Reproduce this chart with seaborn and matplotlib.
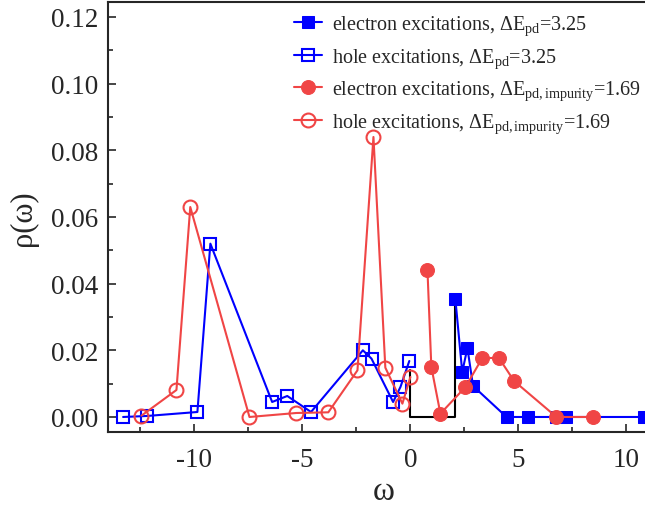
import seaborn as sns
import matplotlib.pyplot as plt
from matplotlib.ticker import MultipleLocator

# hole excitations, dE_pd = 3.25 (blue open squares)
hole_pd_x = [-13.3, -12.2, -9.86, -9.26, -6.4, -5.7, -4.6, -2.2, -1.8, -0.8, -0.46, -0.05]
hole_pd_y = [0.0, 0.0003, 0.0015, 0.052, 0.0045, 0.0063, 0.0015, 0.020, 0.0175, 0.0045, 0.009, 0.0168]

# electron excitations, dE_pd = 3.25 (blue filled squares)
elec_pd_x = [2.08, 2.4, 2.64, 2.9, 4.45, 5.46, 6.76, 7.22, 10.8]
elec_pd_y = [0.0355, 0.0135, 0.0207, 0.0093, 0.0, 0.0, 0.0, 0.0, 0.0]

# electron excitations, impurity (red filled circles)
elec_imp_x = [0.79, 0.97, 1.39, 2.55, 3.33, 4.1, 4.8, 6.76, 8.47]
elec_imp_y = [0.0441, 0.015, 0.001, 0.009, 0.0177, 0.0177, 0.0108, 0.0, 0.0]

# hole excitations, impurity (red open circles)
hole_imp_x = [-12.45, -10.83, -10.19, -7.45, -5.28, -3.8, -2.45, -1.71, -1.16, -0.37, 0.0]
hole_imp_y = [0.0004, 0.0081, 0.063, 0.0, 0.0012, 0.0014, 0.014, 0.084, 0.0148, 0.004, 0.012]

# gap outline
gap_x = [0.0, 0.0, 2.08, 2.08]
gap_y = [0.014, 0.0, 0.0, 0.0355]

blue = "#0000FF"
red = "#F04545"

sns.set_style("ticks")
plt.rcParams["font.family"] = ["Liberation Serif", "DejaVu Serif"]
plt.rcParams["mathtext.fontset"] = "custom"
plt.rcParams["mathtext.rm"] = "Liberation Serif"
plt.rcParams["mathtext.it"] = "Liberation Serif:italic"
plt.rcParams["axes.unicode_minus"] = False

fig = plt.figure(figsize=(6.45, 5.06), dpi=100)
ax = fig.add_axes([0.1674, 0.1443, 0.854, 0.8498])

sns.lineplot(x=gap_x, y=gap_y, ax=ax, color="black", lw=1.5, sort=False, estimator=None)

sns.lineplot(x=elec_pd_x, y=elec_pd_y, ax=ax, color=blue, lw=1.5, marker="s", ms=9,
             mfc=blue, mec=blue, label=r"electron excitations, $\Delta$E$_{\mathrm{pd}}$=3.25")
sns.lineplot(x=hole_pd_x, y=hole_pd_y, ax=ax, color=blue, lw=1.5, marker="s", ms=9,
             mfc="none", mec=blue, mew=1.5, label=r"hole excitations, $\Delta$E$_{\mathrm{pd}}$=3.25")
sns.lineplot(x=elec_imp_x, y=elec_imp_y, ax=ax, color=red, lw=1.5, marker="o", ms=10,
             mfc=red, mec=red, label=r"electron excitations, $\Delta$E$_{\mathrm{pd,impurity}}$=1.69")
sns.lineplot(x=hole_imp_x, y=hole_imp_y, ax=ax, color=red, lw=1.5, marker="o", ms=10,
             mfc="none", mec=red, mew=1.5, label=r"hole excitations, $\Delta$E$_{\mathrm{pd,impurity}}$=1.69")

ax.set_xlim(-14, 11.5)
ax.set_ylim(-0.0045, 0.1245)
ax.xaxis.set_major_locator(MultipleLocator(5))
ax.xaxis.set_minor_locator(MultipleLocator(2.5))
ax.yaxis.set_major_locator(MultipleLocator(0.02))
ax.yaxis.set_minor_locator(MultipleLocator(0.01))
ax.yaxis.set_major_formatter(plt.FormatStrFormatter("%.2f"))
ax.tick_params(which="both", direction="in", labelsize=19.5, width=1.2)
ax.tick_params(which="major", length=6, pad=7)
ax.tick_params(axis="x", which="major", pad=11)
ax.tick_params(which="minor", length=3.5)
for s in ax.spines.values():
    s.set_linewidth(1.5)

ax.set_xlabel("ω", fontsize=24, labelpad=2)
ax.set_ylabel("ρ(ω)", fontsize=22, labelpad=9)

leg = ax.legend(loc="upper left", bbox_to_anchor=(0.305, 1.015), frameon=False, fontsize=14.5,
                handlelength=1.4, handletextpad=0.5, labelspacing=0.45)

fig.savefig("out.png", dpi=100)
